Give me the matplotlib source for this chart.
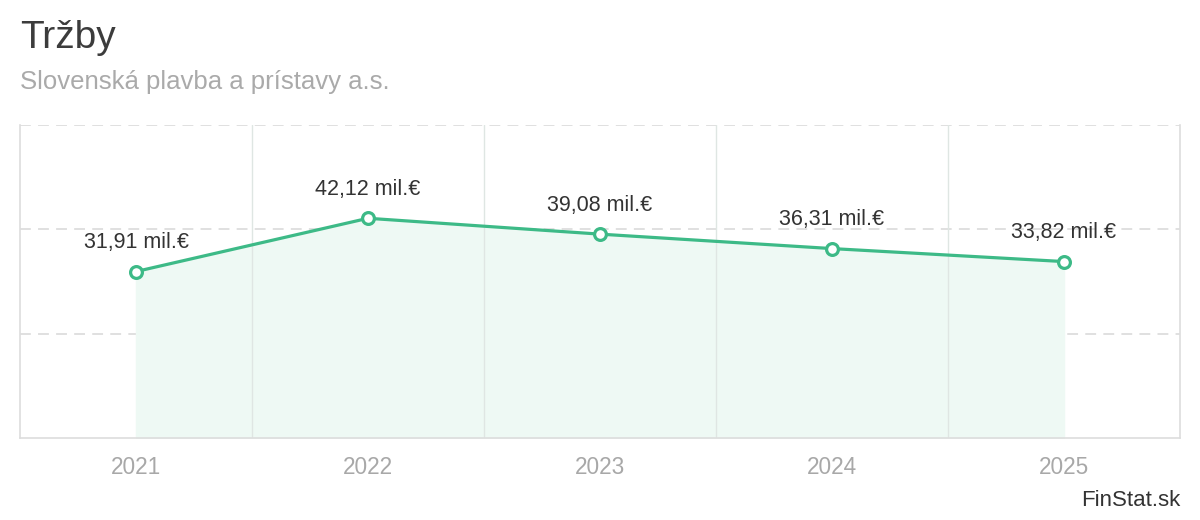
import matplotlib.pyplot as plt

plt.rcParams['font.family'] = ['Liberation Sans', 'DejaVu Sans']

years = ["2021", "2022", "2023", "2024", "2025"]
revenue = [31.91, 42.12, 39.08, 36.31, 33.82]
labels = ["31,91 mil.€", "42,12 mil.€", "39,08 mil.€", "36,31 mil.€", "33,82 mil.€"]

green = '#3dba87'

fig = plt.figure(figsize=(12, 5.2), dpi=100)
ax = fig.add_axes([20 / 1200, (520 - 438) / 520, 1160 / 1200, 313 / 520])

x = list(range(len(years)))
ax.fill_between(x, revenue, 0, color='#eef9f4', zorder=1)
ax.plot(x, revenue, color=green, linewidth=2.3, zorder=3,
        marker='o', markersize=8.5, markerfacecolor='white',
        markeredgecolor=green, markeredgewidth=2.3)

for xi, v, lab in zip(x, revenue, labels):
    ax.annotate(lab, (xi, v), xytext=(0, 29), textcoords='offset pixels',
                ha='center', va='center', fontsize=15.5, color='#333333', zorder=4)

ax.set_xlim(-0.5, len(years) - 0.5)
ax.set_ylim(0, 60)

# horizontal dashed grid
for yv in [20, 40, 60]:
    ax.axhline(yv, color='#dddddd', linewidth=1.3, linestyle=(0, (6, 4)), zorder=0)
# vertical category boundaries
for xv in [0.5, 1.5, 2.5, 3.5]:
    ax.axvline(xv, color='#dfe6e3', linewidth=1, zorder=2)

ax.spines['top'].set_visible(False)
for side in ['left', 'right', 'bottom']:
    ax.spines[side].set_color('#dddddd')
    ax.spines[side].set_linewidth(1.2)

ax.set_yticks([])
ax.set_xticks(x)
ax.set_xticklabels(years)
ax.tick_params(axis='x', length=0, pad=13, labelsize=16.3, labelcolor='#a8a8a8')

fig.text(20 / 1200, 1 - 38 / 520, "Tržby", fontsize=28, color='#3c3c3c', va='center', ha='left')
fig.text(20 / 1200, 1 - 82 / 520, "Slovenská plavba a prístavy a.s.", fontsize=18.5,
         color='#aaaaaa', va='center', ha='left')
fig.text(1180 / 1200, 1 - 500 / 520, "FinStat.sk", fontsize=16, color='#333333',
         va='center', ha='right')

fig.savefig('out.png', dpi=100)
